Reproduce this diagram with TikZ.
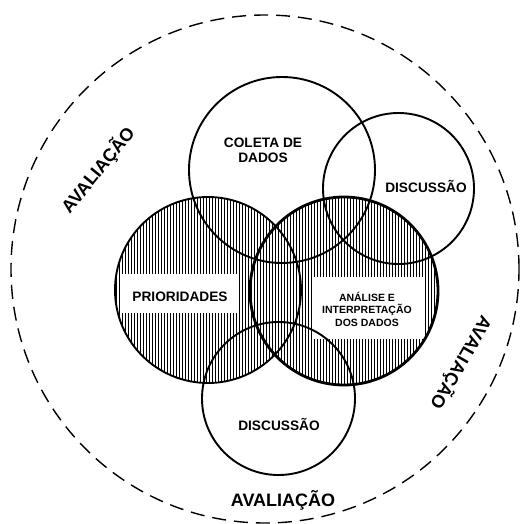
\documentclass[tikz,border=0pt]{standalone}
\usepackage{fontspec}
\setmainfont{Liberation Sans}
\begin{document}
\begin{tikzpicture}[x=1pt,y=-1pt,
  ring/.style={circle, draw, line width=1.9pt, inner sep=0pt},
  hatch/.style={line width=0.8pt, black},
  blank/.style={fill=white, draw=none},
  lbl/.style={font=\bfseries\fontsize{13.7pt}{15pt}\selectfont, align=center, inner sep=0pt},
  small/.style={font=\bfseries\fontsize{10.5pt}{12.5pt}\selectfont, align=center, inner sep=0pt},
  big/.style={font=\bfseries\fontsize{18pt}{20pt}\selectfont, inner sep=0pt}]
\useasboundingbox (0,0) rectangle (520,524);

% vertical hatching over the two central circles
\begin{scope}
  \clip (208,290) circle[radius=93pt] (344,291) circle[radius=94pt];
  \foreach \x in {110,113,...,442} \draw[hatch] (\x,190) -- (\x,392);
\end{scope}

% white label boxes
\fill[blank] (122,274) rectangle (237,313);
\fill[blank] (312,277) rectangle (425,339);

% outer dashed ring
\node[circle, draw, dashed, dash pattern=on 14pt off 8pt, line width=1.4pt,
      minimum size=508pt, inner sep=0pt] (avaliacao) at (265,269) {};

% circles
\node[ring, minimum size=186pt] (prioridades) at (208,290) {};
\node[ring, line width=2.8pt, minimum size=188pt] (analise) at (344,291) {};
\node[ring, minimum size=186pt] (coleta) at (282,170) {};
\node[ring, minimum size=151pt] (discA) at (398.5,188.5) {};
\node[ring, minimum size=153pt] (discB) at (278.5,398.5) {};

% labels
\node[lbl] (tcoleta) at (263,150) {COLETA DE\\DADOS};
\node[lbl] (tdiscA) at (426,186) {DISCUSSÃO};
\node[lbl] (tprior) at (180,297) {PRIORIDADES};
\node[small] (tanalise) at (367,309) {ANÁLISE E\\INTERPRETAÇÃO\\DOS DADOS};
\node[lbl] (tdiscB) at (279,424) {DISCUSSÃO};
\node[big] (avalB) at (283,500) {AVALIAÇÃO};
\node[big, rotate=51] (avalL) at (98,170) {AVALIAÇÃO};
\node[big, rotate=-120] (avalR) at (461,363) {AVALIAÇÃO};
\end{tikzpicture}
\end{document}
